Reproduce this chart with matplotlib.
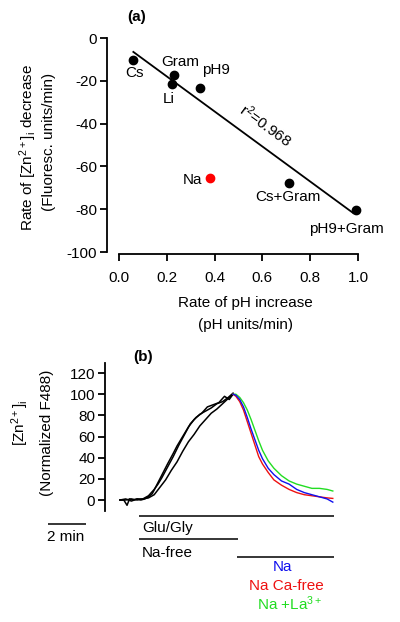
import matplotlib
matplotlib.use("Agg")
import matplotlib.pyplot as plt

plt.rcParams["font.family"] = ["Liberation Sans", "DejaVu Sans"]
plt.rcParams["mathtext.fontset"] = "custom"
plt.rcParams["mathtext.rm"] = "Liberation Sans"
plt.rcParams["mathtext.it"] = "Liberation Sans:italic"
plt.rcParams["mathtext.bf"] = "Liberation Sans:bold"
plt.rcParams["axes.unicode_minus"] = False

# ---- panel (a) data: rate of pH increase vs rate of [Zn2+]i decrease
cond_names = ["Cs", "Gram", "Li", "pH9", "Na", "Cs+Gram", "pH9+Gram"]
ph_rate = [0.06, 0.23, 0.22, 0.34, 0.38, 0.71, 0.99]
zn_rate = [-10.3, -17.3, -21.5, -23.4, -65.5, -67.7, -80.4]
point_colors = ["black", "black", "black", "black", "red", "black", "black"]
# label offsets in pixels (dx, dy)
label_offsets = [(1, -13), (6, 13), (-3, -15), (16, 18), (-17, -2), (-1, -14), (-9, -19)]
fit_x = [0.06, 0.98]
fit_y = [-6.5, -81.8]
r2_text = r"r$^2$=0.968"

# ---- panel (b) data: normalized F488 traces (time in min)
t_blk1 = [0, 0.2, 0.37, 0.5, 0.7, 0.9, 1.1, 1.3, 1.5, 1.7, 1.9, 2.1, 2.3, 2.5, 2.8,
          3.0, 3.3, 3.6, 3.9, 4.2, 4.5, 4.8, 5.1, 5.4, 5.7, 5.95]
y_blk1 = [0, 0, -5, 1, 0, 1, 0, 1, 3, 6, 13, 20, 27, 34, 44,
          51, 60, 69, 76, 81, 84, 87, 91, 93, 97, 101]
t_blk2 = [0, 0.3, 0.6, 0.9, 1.2, 1.5, 1.8, 2.0, 2.2, 2.5, 2.8, 3.1, 3.4, 3.7, 4.0,
          4.3, 4.6, 4.9, 5.2, 5.5, 5.75, 5.95]
y_blk2 = [0, 1, -1, 1, 1, 4, 10, 15, 21, 31, 41, 52, 62, 72, 78,
          82, 88, 90, 92, 98, 95, 100]
t_blk3 = [0, 0.3, 0.6, 0.9, 1.2, 1.5, 1.8, 2.1, 2.4, 2.7, 3.0, 3.3, 3.6, 3.9, 4.2,
          4.5, 4.8, 5.1, 5.4, 5.7, 5.95]
y_blk3 = [0, 0, 1, 0, 1, 2, 5, 12, 19, 28, 36, 46, 55, 62, 70,
          76, 82, 86, 91, 96, 100]
t_dec = [5.95, 6.1, 6.3, 6.5, 6.7, 6.9, 7.1, 7.3, 7.5, 7.8, 8.1, 8.5, 8.9, 9.3,
         9.7, 10.1, 10.5, 10.9, 11.2]
y_na = [100, 99, 95, 88, 78, 67, 57, 47, 39, 30, 24, 18, 15, 10, 7, 5, 3, 1, -2]
y_na_cafree = [100, 98, 93, 85, 74, 63, 52, 41, 34, 26, 19, 14, 10, 7, 5, 4, 3, 2, 1.5]
y_na_la = [100, 100, 97, 92, 85, 76, 66, 56, 47, 37, 30, 23, 18, 15, 13, 11, 11, 10, 8.5]
BLUE, RED, GREEN = "#1010ee", "#ee1111", "#22dd22"

W, H = 400, 622
fig = plt.figure(figsize=(W / 100, H / 100), dpi=100)


def px_axes(left, top, right, bottom):
    return fig.add_axes([left / W, 1 - bottom / H, (right - left) / W, (bottom - top) / H])


def ftext(x, y, s, **kw):
    fig.text(x / W, 1 - y / H, s, **kw)


FS = 11

# ================= panel (a)
ax = px_axes(107, 30, 370, 252)
ax.set_xlim(-12 / 239, 1 + 12 / 239)
ax.set_ylim(-100, 8 / 2.14)
for n, x, y, c, (dx, dy) in zip(cond_names, ph_rate, zn_rate, point_colors, label_offsets):
    ax.plot(x, y, "o", color=c, ms=6, zorder=3)
    ax.annotate(n, (x, y), xytext=(dx, dy), textcoords="offset pixels",
                ha="center", va="center", fontsize=FS)
ax.plot(fit_x, fit_y, color="black", lw=1.3)
ax.text(0.612, -40.5, r2_text, rotation=-36, ha="center", va="center",
        fontsize=FS, rotation_mode="anchor")
for s in ["top", "right"]:
    ax.spines[s].set_visible(False)
ax.spines["left"].set_bounds(-100, 0)
ax.spines["bottom"].set_bounds(0, 1)
ax.spines["bottom"].set_position(("outward", 1.5))
for s in ["left", "bottom"]:
    ax.spines[s].set_linewidth(1.3)
ax.set_yticks([0, -20, -40, -60, -80, -100])
ax.set_xticks([0, 0.2, 0.4, 0.6, 0.8, 1.0])
ax.set_xticklabels(["0.0", "0.2", "0.4", "0.6", "0.8", "1.0"])
ax.tick_params(axis="both", direction="out", length=5, width=1.3, labelsize=FS)
ax.tick_params(axis="y", pad=2)
ax.tick_params(axis="x", pad=7)

ftext(137, 17, "(a)", fontsize=FS, fontweight="bold", ha="center", va="center")
ftext(28, 147, r"Rate of [Zn$^{2+}$]$_{\rm i}$ decrease", rotation=90,
      fontsize=FS, ha="center", va="center")
ftext(49, 142, "(Fluoresc. units/min)", rotation=90, fontsize=FS, ha="center", va="center")
ftext(245, 303, "Rate of pH increase", fontsize=FS, ha="center", va="center")
ftext(245, 325, "(pH units/min)", fontsize=FS, ha="center", va="center")

# ================= panel (b)
bx = px_axes(105, 363, 345, 511)
bx.set_xlim(-15 / 19, 225 / 19)
bx.set_ylim(-11 / 1.058, 137 / 1.058)
bx.plot(t_blk1, y_blk1, color="black", lw=1.1)
bx.plot(t_blk2, y_blk2, color="black", lw=1.1)
bx.plot(t_blk3, y_blk3, color="black", lw=1.1)
bx.plot(t_dec, y_na_la, color=GREEN, lw=1.0)
bx.plot(t_dec, y_na_cafree, color=RED, lw=1.0)
bx.plot(t_dec, y_na, color=BLUE, lw=1.0)
for s in ["top", "right", "bottom"]:
    bx.spines[s].set_visible(False)
bx.spines["left"].set_linewidth(1.3)
bx.set_xticks([])
bx.set_yticks([0, 20, 40, 60, 80, 100, 120])
bx.tick_params(axis="y", direction="out", length=5, width=1.3, labelsize=FS, pad=2)

# solution bars (time in min, y in data units below the axis)
bar_kw = dict(color="black", lw=1.1, clip_on=False, solid_capstyle="butt")
bx.plot([1.0, 11.26], [-15.1, -15.1], **bar_kw)   # Glu/Gly
bx.plot([1.0, 6.2], [-36.9, -36.9], **bar_kw)     # Na-free
bx.plot([6.15, 11.26], [-53.9, -53.9], **bar_kw)  # Na
bx.plot([-3.79, -1.79], [-22.7, -22.7], **bar_kw)  # 2 min scale

ftext(143, 357, "(b)", fontsize=FS, fontweight="bold", ha="center", va="center")
ftext(20, 423, r"[Zn$^{2+}$]$_{\rm i}$", rotation=90, fontsize=FS, ha="center", va="center")
ftext(47, 433, "(Normalized F488)", rotation=90, fontsize=FS, ha="center", va="center")
ftext(66, 537, "2 min", fontsize=FS, ha="center", va="center")
ftext(142, 528, "Glu/Gly", fontsize=FS, ha="left", va="center")
ftext(142, 553, "Na-free", fontsize=FS, ha="left", va="center")
ftext(282, 567, "Na", fontsize=FS, ha="center", va="center", color=BLUE)
ftext(286, 586, "Na Ca-free", fontsize=FS, ha="center", va="center", color=RED)
ftext(290, 604, r"Na +La$^{3+}$", fontsize=FS, ha="center", va="center", color=GREEN)

fig.savefig("out.png", dpi=100)
